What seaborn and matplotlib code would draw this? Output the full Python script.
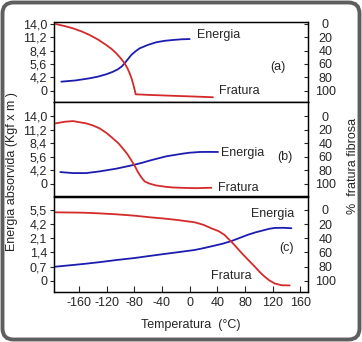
import numpy as np
import pandas as pd
import matplotlib
matplotlib.use("Agg")
import matplotlib.pyplot as plt
import seaborn as sns
from matplotlib.patches import FancyBboxPatch
from matplotlib.transforms import IdentityTransform

# ---------------- data ----------------
temp_ticks = [-160, -120, -80, -40, 0, 40, 80, 120, 160]
pct_ticks = [0, 20, 40, 60, 80, 100]
left_labels_ab = ["0", "4,2", "5,6", "8,4", "11,2", "14,0"]
left_labels_c = ["0", "0,7", "1,4", "2,1", "4,2", "5,5"]

# panel (a)  fratura in % (right axis), energia in left-tick positions (0..5)
a_frat_t = [-193.6, -181, -168.6, -156, -144.5, -132, -120.4, -113, -106, -100, -94, -90,
            -86.7, -84, -81.9, -80, -78, -60, -20, 0, 33.7]
a_frat_p = [0.7, 3.7, 7.1, 11.8, 17, 24, 31.9, 37.5, 44.1, 51, 59, 66,
            73.8, 81, 88.6, 96, 104.9, 105.8, 107.3, 108, 109.3]
a_ener_t = [-185.4, -165, -144.5, -132, -120.4, -111, -103.6, -98, -94, -89, -84.3, -78,
            -72.3, -60, -48.3, -36, -24.1, -12, 0]
a_ener_v = [0.69, 0.78, 0.94, 1.07, 1.24, 1.42, 1.61, 1.82, 2.05, 2.37, 2.67, 2.95,
            3.16, 3.42, 3.61, 3.72, 3.78, 3.83, 3.85]

# panel (b)
b_frat_t = [-193.6, -180.6, -168.6, -149.4, -140, -130, -120, -110.8, -103, -96.4, -90,
            -84.3, -79, -74.7, -70, -65, -58, -48.3, -36, -24, -8, 9.6, 31.3]
b_frat_p = [10.8, 8.4, 7.4, 10.8, 13.8, 18.2, 25, 33, 40, 47.9, 56,
            65.2, 74, 82.5, 90, 96.3, 99.5, 102.2, 104, 105.2, 105.8, 106.2, 105.6]
b_ener_t = [-186.9, -168.6, -149.4, -130, -106, -90, -79.5, -68, -57.8, -45, -33.7,
            -20, -9.7, 0, 14.5, 28, 41]
b_ener_v = [0.875, 0.8, 0.8, 0.925, 1.125, 1.3, 1.42, 1.57, 1.72, 1.89, 2.035,
            2.15, 2.235, 2.3, 2.355, 2.36, 2.355]

# panel (c)
c_frat_t = [-193.6, -154, -130, -106, -80, -57.8, -38, -19, 7.2, 20, 31.3, 42, 50.6,
            55, 60.2, 67, 74.7, 84, 94, 101, 108, 115, 123, 133, 144.5]
c_frat_p = [3.3, 3.8, 4.8, 6.1, 8, 10.3, 12, 14, 17.4, 21, 25.9, 30, 35.4,
            40, 44.8, 52, 60.5, 70, 80, 87.5, 94, 99.5, 104, 106.5, 106.7]
c_ener_t = [-193.6, -154, -130, -106, -80, -57.8, -38, -19, 7.2, 20, 36, 48, 60.2,
            72, 84.3, 96, 108, 115, 123, 135, 147]
c_ener_v = [0.99, 1.18, 1.31, 1.46, 1.6, 1.75, 1.88, 2.0, 2.17, 2.3, 2.48, 2.62, 2.8,
            3.02, 3.25, 3.43, 3.58, 3.67, 3.73, 3.74, 3.71]

# ---------------- style ----------------
sns.set_style("white")
plt.rcParams['font.family'] = ['Liberation Sans', 'DejaVu Sans']
plt.rcParams['axes.unicode_minus'] = False

RED = "#d42a2a"
BLUE = "#1c1cb0"
FS = 9

W, H = 362, 342
fig = plt.figure(figsize=(W / 100, H / 100), dpi=100)

x0, x1 = 54, 308
panels = [
    dict(top=21.7, bot=101.7, ylim=(-2.7, 115.9), labels=left_labels_ab,
         ft=a_frat_t, fp=a_frat_p, et=a_ener_t, ev=a_ener_v,
         txt=[("Energia", 10, 17, 'left'), ("Fratura", 43, 99.6, 'left'), ("(a)", 127, 64, 'center')]),
    dict(top=102, bot=195.7, ylim=(-20.7, 117.3), labels=left_labels_ab,
         ft=b_frat_t, fp=b_frat_p, et=b_ener_t, ev=b_ener_v,
         txt=[("Energia", 46, 53.8, 'left'), ("Fratura", 40.5, 106, 'left'), ("(b)", 137, 61, 'center')]),
    dict(top=196.7, bot=291.7, ylim=(-18.8, 115.6), labels=left_labels_c,
         ft=c_frat_t, fp=c_frat_p, et=c_ener_t, ev=c_ener_v,
         txt=[("Energia", 89, 5.7, 'left'), ("Fratura", 31.4, 93, 'left'), ("(c)", 140.6, 54, 'center')]),
]

for i, p in enumerate(panels):
    ax = fig.add_axes([x0 / W, 1 - p['bot'] / H, (x1 - x0) / W, (p['bot'] - p['top']) / H])
    ax2 = ax.twinx()
    ptop, pbot = p['ylim']
    # left axis: tick-position units (0..5); right axis: % (inverted)
    ax.set_ylim((100 - pbot) / 20, (100 - ptop) / 20)
    ax.set_xlim(-196, 171)

    sns.lineplot(x=p['et'], y=p['ev'], ax=ax, color=BLUE, lw=1.3, legend=False,
                 solid_joinstyle='round')
    sns.lineplot(x=p['ft'], y=p['fp'], ax=ax2, color=RED, lw=1.3, legend=False,
                 solid_joinstyle='round')
    ax.set_ylim((100 - pbot) / 20, (100 - ptop) / 20)
    ax2.set_ylim(pbot, ptop)
    ax.set_xlim(-196, 171)
    ax2.set_xlim(-196, 171)

    ax.set_yticks(range(6))
    ax.set_yticklabels(p['labels'], fontsize=FS)
    ax.tick_params(axis='y', direction='out', length=3, width=0.8, pad=2, left=True)
    ax2.set_yticks(pct_ticks)
    ax2.set_yticklabels([str(v) for v in pct_ticks], fontsize=FS)
    ax2.tick_params(axis='y', direction='in', length=3, width=0.8, pad=12.5, right=True)
    for lab in ax2.get_yticklabels():
        lab.set_horizontalalignment('center')
    ax2.set_ylabel("")
    ax.set_ylabel("")

    ax.set_xticks(temp_ticks)
    if i < 2:
        ax.tick_params(axis='x', bottom=False, labelbottom=False)
        ax2.tick_params(axis='x', bottom=False, labelbottom=False)
    else:
        ax.set_xticklabels([str(t) for t in temp_ticks], fontsize=FS)
        ax.tick_params(axis='x', direction='in', length=4, width=0.8, pad=4, bottom=True)

    for a in (ax, ax2):
        for s in a.spines.values():
            s.set_color("black")
            s.set_linewidth(0.9)

    for (t, xx, yy, ha) in p['txt']:
        ax2.text(xx, yy, t, ha=ha, va='center', fontsize=FS)

fig.text(12 / W, 1 - 172 / H, "Energia absorvida (Kgf x m )", rotation=90,
         ha='center', va='center', fontsize=FS)
fig.text(353 / W, 1 - 166 / H, "%  fratura fibrosa", rotation=90,
         ha='center', va='center', fontsize=FS)
fig.text(190.7 / W, 1 - 325 / H, "Temperatura  (°C)", ha='center', va='center', fontsize=FS)

border = FancyBboxPatch((2.5, 2.5), W - 5, H - 5, boxstyle="round,pad=0,rounding_size=11",
                        transform=IdentityTransform(), facecolor='none',
                        edgecolor='#5e5e5e', linewidth=2.8)
fig.patches.append(border)

fig.savefig("out.png", dpi=100)
